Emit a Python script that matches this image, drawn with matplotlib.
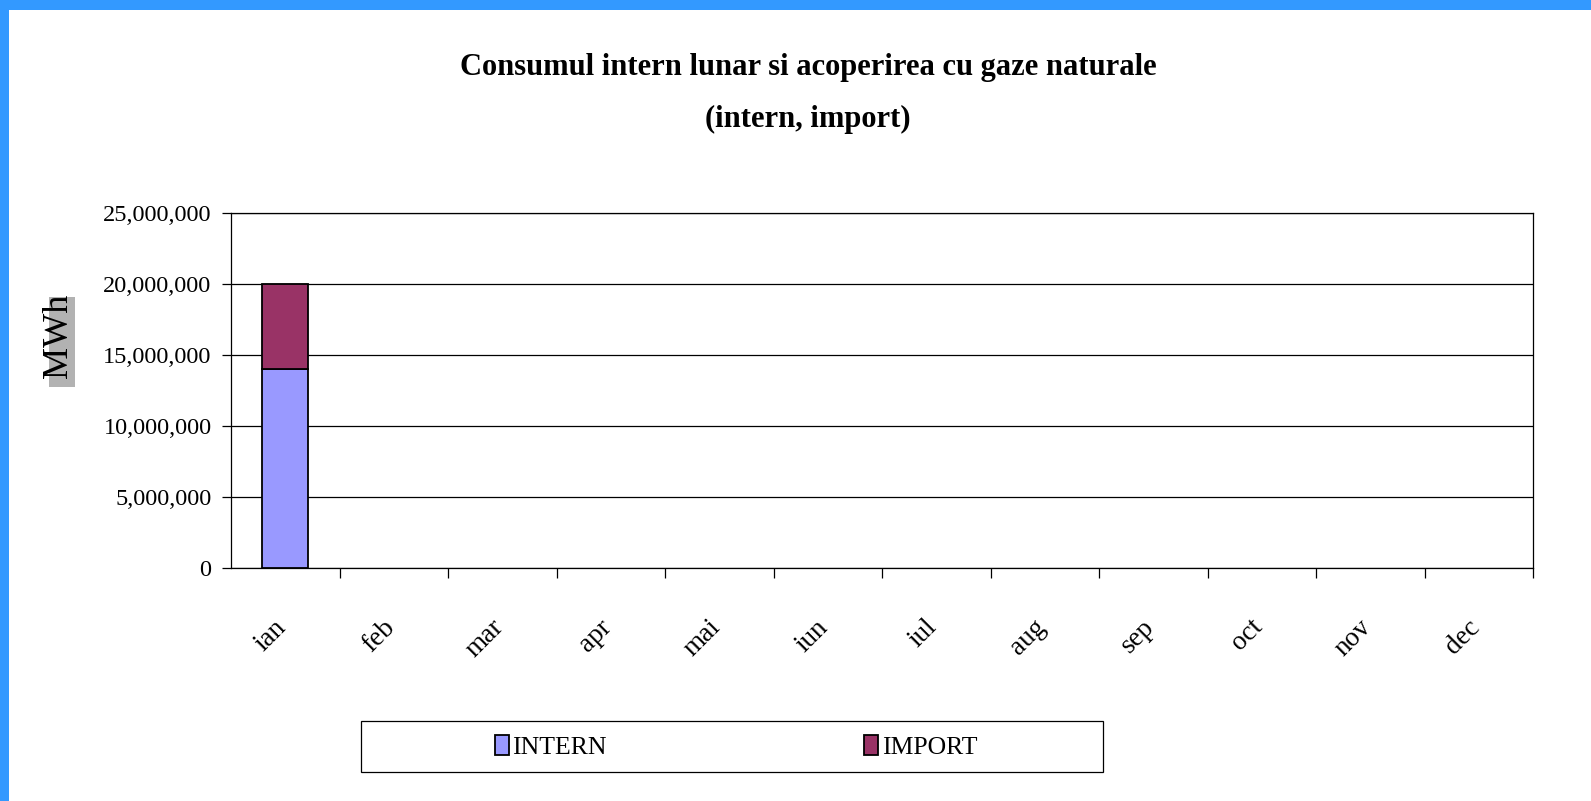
import numpy as np
import matplotlib
matplotlib.use('Agg')
import matplotlib.pyplot as plt
from matplotlib.patches import Rectangle
from matplotlib.ticker import FuncFormatter, FixedLocator
from matplotlib.transforms import ScaledTranslation

plt.rcParams['font.family'] = ['Liberation Serif', 'DejaVu Serif']

MONTHS = ['ian', 'feb', 'mar', 'apr', 'mai', 'iun', 'iul', 'aug', 'sep', 'oct', 'nov', 'dec']
NAN = np.nan
INTERN = [14000000, NAN, NAN, NAN, NAN, NAN, NAN, NAN, NAN, NAN, NAN, NAN]
IMPORT = [6000000, NAN, NAN, NAN, NAN, NAN, NAN, NAN, NAN, NAN, NAN, NAN]
SERIES = ['INTERN', 'IMPORT']
COLORS = ['#9999FF', '#993366']

W, H = 1591, 801


def main():
    fig = plt.figure(figsize=(W / 100, H / 100), dpi=100)

    # blue frame on top and left
    fig.patches.append(Rectangle((0, 1 - 10 / H), 1, 10 / H, transform=fig.transFigure,
                                 facecolor='#3399FF', edgecolor='none', zorder=0))
    fig.patches.append(Rectangle((0, 0), 9 / W, 1, transform=fig.transFigure,
                                 facecolor='#3399FF', edgecolor='none', zorder=0))

    left, right, top, bottom = 231, 1533, 213, 568
    ax = fig.add_axes([left / W, 1 - bottom / H, (right - left) / W, (bottom - top) / H])

    x = np.arange(len(MONTHS))
    ax.bar(x, INTERN, width=0.42, color=COLORS[0], edgecolor='black', linewidth=1.3,
           label=SERIES[0], zorder=3)
    ax.bar(x, IMPORT, width=0.42, bottom=INTERN, color=COLORS[1], edgecolor='black',
           linewidth=1.3, label=SERIES[1], zorder=3)

    ax.set_xlim(-0.5, len(MONTHS) - 0.5)
    ax.set_ylim(0, 25000000)
    ax.set_yticks(np.arange(0, 25000001, 5000000))
    ax.yaxis.set_major_formatter(FuncFormatter(lambda v, p: f'{v:,.0f}'))
    ax.yaxis.grid(True, color='black', linewidth=0.9, zorder=0)
    ax.set_axisbelow(True)
    for sp in ax.spines.values():
        sp.set_linewidth(0.9)

    ax.set_xticks(x)
    ax.set_xticklabels(MONTHS, rotation=45, ha='right', va='center', rotation_mode='anchor')
    ax.xaxis.set_minor_locator(FixedLocator(np.arange(0.5, len(MONTHS) - 0.4, 1)))
    ax.tick_params(axis='x', which='major', length=0, pad=40, labelsize=19.5)
    ax.tick_params(axis='x', which='minor', length=7, width=0.9, direction='out')
    ax.tick_params(axis='y', length=6.5, width=0.9, pad=7.5, labelsize=17.5)
    offset = ScaledTranslation(-3 / 100, 0, fig.dpi_scale_trans)
    for lbl in ax.get_xticklabels():
        lbl.set_transform(lbl.get_transform() + offset)

    # title
    fig.text(808 / W, 1 - 68 / H, 'Consumul intern lunar si acoperirea cu gaze naturale',
             ha='center', va='center', fontsize=22, fontweight='bold')
    fig.text(808 / W, 1 - 119 / H, '(intern, import)',
             ha='center', va='center', fontsize=22, fontweight='bold')

    # y label with grey box
    fig.patches.append(Rectangle((49 / W, 1 - 387 / H), 26 / W, 90 / H, transform=fig.transFigure,
                                 facecolor='#B2B2B2', edgecolor='none', zorder=1))
    fig.text(58 / W, 1 - 336 / H, 'MWh', rotation=90, ha='center', va='center',
             fontsize=26, zorder=2)

    # legend with its own frame
    fig.patches.append(Rectangle((361 / W, 1 - 772 / H), 742 / W, 51 / H, transform=fig.transFigure,
                                 facecolor='white', edgecolor='black', linewidth=0.9, zorder=1))
    handles, labels = ax.get_legend_handles_labels()
    fig.legend(handles, labels, loc='center', bbox_to_anchor=(736 / W, 1 - 747 / H),
               ncol=2, frameon=False, fontsize=18.5, handlelength=0.55, handleheight=0.85,
               handletextpad=0.15, columnspacing=10.0)

    plt.savefig('out.png', dpi=100)


if __name__ == '__main__':
    main()
